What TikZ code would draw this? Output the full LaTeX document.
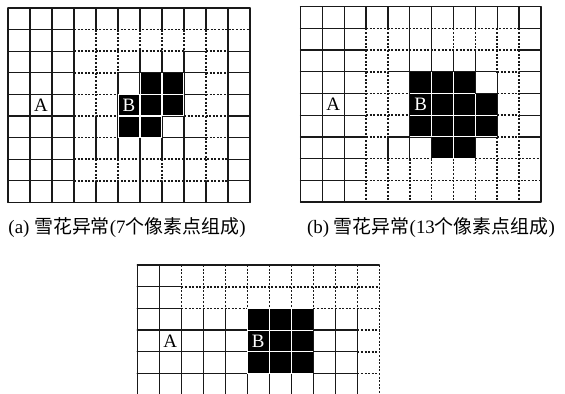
\documentclass[tikz,border=0pt]{standalone}
\usepackage{fontspec}
\setmainfont{Liberation Serif}
\newfontfamily\cjk{Noto Sans CJK SC}
\tikzset{
  sl/.style={line width=1.3bp, black!90, line cap=round},
  dl/.style={line width=1.6bp, black!90, dash pattern=on 2bp off 1.6bp},
  lab/.style={font=\fontsize{19}{19}\selectfont, inner sep=0pt},
  captext/.style={font=\fontsize{19}{22}\selectfont, inner sep=0pt},
}
\begin{document}
\begin{tikzpicture}[x=1bp,y=-1bp]
\useasboundingbox (0,0) rectangle (565,393);
\fill[white] (0,0) rectangle (565,393);

% ---------------- grid (a) ----------------
\begin{scope}[xshift=8bp, yshift=-8bp, x=22bp, y=-21.6bp]
  \foreach \r/\a/\b in {0/0/11,9/0/11,
      1/0/3,
      2/0/3,2/8/9,2/10/11,
      3/0/3,3/5/9,3/10/11,
      4/0/3,4/5/9,4/10/11,
      5/0/3,5/5/8,5/10/11,
      6/0/3,6/5/9,6/10/11,
      7/0/3,7/10/11,
      8/0/3,8/10/11}
    \draw[sl] (\a,\r) -- (\b,\r);
  \foreach \r/\a/\b in {1/3/11,
      2/3/8,2/9/10,
      3/3/5,3/9/10,
      4/3/5,4/9/10,
      5/3/5,5/8/10,
      6/3/5,6/9/10,
      7/3/10,
      8/3/10}
    \draw[dl] (\a,\r) -- (\b,\r);
  \foreach \c/\a/\b in {0/0/9,1/0/9,2/0/9,3/0/9,10/0/9,11/0/9,
      4/0/1,4/5/7,4/8/9,
      5/0/1,5/3/7,5/8/9,
      6/0/1,6/2/9,
      7/0/1,7/2/7,7/8/9,
      8/0/1,8/2/9,
      9/0/1,9/8/9}
    \draw[sl] (\c,\a) -- (\c,\b);
  \foreach \c/\a/\b in {4/1/5,4/7/8,
      5/1/3,5/7/8,
      6/1/2,
      7/1/2,7/7/8,
      8/1/2,
      9/1/8}
    \draw[dl] (\c,\a) -- (\c,\b);
  \foreach \c/\r in {6/3,7/3,5/4,6/4,7/4,5/5,6/5}
    \fill[white] (\c,\r) rectangle (\c+1,\r+1);
  \foreach \c/\r in {6/3,7/3,5/4,6/4,7/4,5/5,6/5}
    \fill[black] (\c+0.025,\r+0.025) rectangle (\c+0.975,\r+0.975);
  \node[lab] (Aa) at (1.5,4.5) {A};
  \node[lab, text=white] (Ba) at (5.5,4.5) {B};
\end{scope}

% ---------------- grid (b) ----------------
\begin{scope}[xshift=300.5bp, yshift=-6.7bp, x=21.85bp, y=-21.7bp]
  \foreach \r/\a/\b in {0/0/11,9/0/11,
      1/0/3,1/10/11,
      2/0/3,2/10/11,
      3/0/3,3/4/9,3/10/11,
      4/0/3,4/5/9,4/10/11,
      5/0/3,5/5/9,5/10/11,
      6/0/3,6/4/9,6/10/11,
      7/0/3,7/6/8,
      8/0/3}
    \draw[sl] (\a,\r) -- (\b,\r);
  \foreach \r/\a/\b in {1/3/10,
      2/3/10,
      3/3/4,3/9/10,
      4/3/5,4/9/10,
      5/3/5,5/9/10,
      6/3/4,6/9/10,
      7/3/6,7/8/11,
      8/3/11}
    \draw[dl] (\a,\r) -- (\b,\r);
  \foreach \c/\a/\b in {0/0/9,1/0/9,2/0/9,11/0/9,
      3/0/1,
      4/0/1,4/6/7,
      5/0/7,
      6/0/7,
      7/0/1,7/2/7,
      8/0/1,8/2/7,
      9/0/1,9/3/6,
      10/0/1}
    \draw[sl] (\c,\a) -- (\c,\b);
  \foreach \c/\a/\b in {3/1/9,
      4/1/6,4/7/9,
      5/7/9,
      6/7/9,
      7/1/2,7/7/9,
      8/1/2,8/7/9,
      9/1/3,9/6/9,
      10/1/9}
    \draw[dl] (\c,\a) -- (\c,\b);
  \foreach \c/\r in {5/3,6/3,7/3,5/4,6/4,7/4,8/4,5/5,6/5,7/5,8/5,6/6,7/6}
    \fill[white] (\c,\r) rectangle (\c+1,\r+1);
  \foreach \c/\r in {5/3,6/3,7/3,5/4,6/4,7/4,8/4,5/5,6/5,7/5,8/5,6/6,7/6}
    \fill[black] (\c+0.025,\r+0.025) rectangle (\c+0.975,\r+0.975);
  \node[lab] (Ab) at (1.5,4.5) {A};
  \node[lab, text=white] (Bb) at (5.5,4.5) {B};
\end{scope}

% ---------------- grid (c) ----------------
\begin{scope}[xshift=137.3bp, yshift=-265bp, x=22bp, y=-21.7bp]
  \foreach \r/\a/\b in {0/0/11,
      1/0/2,
      2/0/2,2/5/8,
      3/0/10,
      4/0/10,
      5/0/10}
    \draw[sl] (\a,\r) -- (\b,\r);
  \foreach \r/\a/\b in {1/2/11,
      2/2/5,2/8/11,
      3/10/11,
      4/10/11,
      5/10/11}
    \draw[dl] (\a,\r) -- (\b,\r);
  \foreach \c in {0,1}
    \draw[sl] (\c,0) -- (\c,5.95);
  \foreach \c in {2,...,10}{
    \draw[dl] (\c,0) -- (\c,2);
    \draw[sl] (\c,2) -- (\c,5.95);
  }
  \draw[dl] (11,0) -- (11,5.95);
  \foreach \c/\r in {5/2,6/2,7/2,5/3,6/3,7/3,5/4,6/4,7/4}
    \fill[white] (\c,\r) rectangle (\c+1,\r+1);
  \foreach \c/\r in {5/2,6/2,7/2,5/3,6/3,7/3,5/4,6/4,7/4}
    \fill[black] (\c+0.025,\r+0.025) rectangle (\c+0.975,\r+0.975);
  \node[lab] (Ac) at (1.5,3.5) {A};
  \node[lab, text=white] (Bc) at (5.5,3.5) {B};
\end{scope}

% ---------------- captions ----------------
\node[captext] (capa) at (127,228) {(a) {\cjk 雪花异常}(7{\cjk 个像素点组成})};
\node[captext] (capb) at (431,228) {(b) {\cjk 雪花异常}(13{\cjk 个像素点组成})};
\end{tikzpicture}
\end{document}
